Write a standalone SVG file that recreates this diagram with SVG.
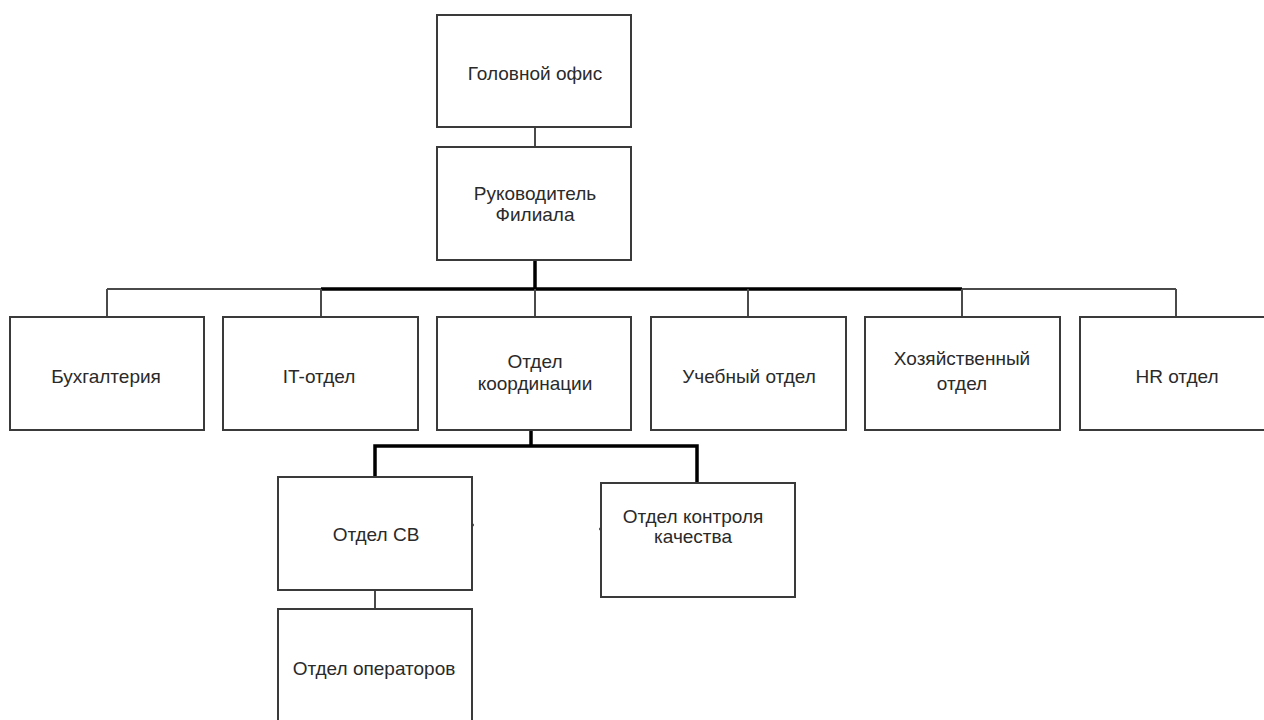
<svg xmlns="http://www.w3.org/2000/svg" width="1264" height="720" viewBox="0 0 1264 720">
  <style>
    .box { fill: #ffffff; stroke: #3a3a3a; stroke-width: 2; }
    .thin { fill: none; stroke: #4a4a4a; stroke-width: 2; }
    .thick { fill: none; stroke: #000000; stroke-width: 3.5; }
    text { font-family: "Liberation Sans", "DejaVu Sans", sans-serif; font-size: 19px; fill: #2a2a2a; text-anchor: middle; }
  </style>
  <rect width="1264" height="720" fill="#ffffff"/>
  <g id="connectors">
    <line class="thin" x1="535" y1="127" x2="535" y2="147"/>
    <line class="thick" x1="535" y1="260" x2="535" y2="289"/>
    <line class="thin" x1="107" y1="289" x2="321" y2="289"/>
    <line class="thick" x1="321" y1="289" x2="962" y2="289"/>
    <line class="thin" x1="962" y1="289" x2="1176" y2="289"/>
    <line class="thin" x1="107" y1="289" x2="107" y2="317"/>
    <line class="thin" x1="321" y1="289" x2="321" y2="317"/>
    <line class="thin" x1="535" y1="289" x2="535" y2="317"/>
    <line class="thin" x1="748" y1="289" x2="748" y2="317"/>
    <line class="thin" x1="962" y1="289" x2="962" y2="317"/>
    <line class="thin" x1="1176" y1="289" x2="1176" y2="317"/>
    <line class="thick" x1="531" y1="430" x2="531" y2="446"/>
    <polyline class="thick" points="375,477 375,446 697,446 697,483"/>
    <line class="thin" x1="375" y1="590" x2="375" y2="609"/>
    <circle cx="472" cy="525" r="1.8" fill="#000"/>
    <circle cx="601" cy="529" r="1.8" fill="#000"/>
  </g>
  <g id="head-office">
    <rect class="box" x="437" y="15" width="194" height="112"/>
    <text x="535" y="80">Головной офис</text>
  </g>
  <g id="branch-head">
    <rect class="box" x="437" y="147" width="194" height="113"/>
    <text x="535" y="200">Руководитель</text>
    <text x="535" y="221">Филиала</text>
  </g>
  <g id="accounting">
    <rect class="box" x="10" y="317" width="194" height="113"/>
    <text x="106" y="383">Бухгалтерия</text>
  </g>
  <g id="it">
    <rect class="box" x="223" y="317" width="195" height="113"/>
    <text x="319" y="383">IT-отдел</text>
  </g>
  <g id="coordination">
    <rect class="box" x="437" y="317" width="194" height="113"/>
    <text x="535" y="368">Отдел</text>
    <text x="535" y="390">координации</text>
  </g>
  <g id="training">
    <rect class="box" x="651" y="317" width="195" height="113"/>
    <text x="749" y="383">Учебный отдел</text>
  </g>
  <g id="household">
    <rect class="box" x="865" y="317" width="195" height="113"/>
    <text x="962" y="365">Хозяйственный</text>
    <text x="962" y="390">отдел</text>
  </g>
  <g id="hr">
    <rect class="box" x="1080" y="317" width="196" height="113"/>
    <text x="1177" y="383">HR отдел</text>
  </g>
  <g id="cb">
    <rect class="box" x="278" y="477" width="194" height="113"/>
    <text x="376" y="541">Отдел СВ</text>
  </g>
  <g id="quality">
    <rect class="box" x="601" y="483" width="194" height="114"/>
    <text x="693" y="523">Отдел контроля</text>
    <text x="693" y="543">качества</text>
  </g>
  <g id="operators">
    <rect class="box" x="278" y="609" width="194" height="130"/>
    <text x="374" y="675">Отдел операторов</text>
  </g>
</svg>
